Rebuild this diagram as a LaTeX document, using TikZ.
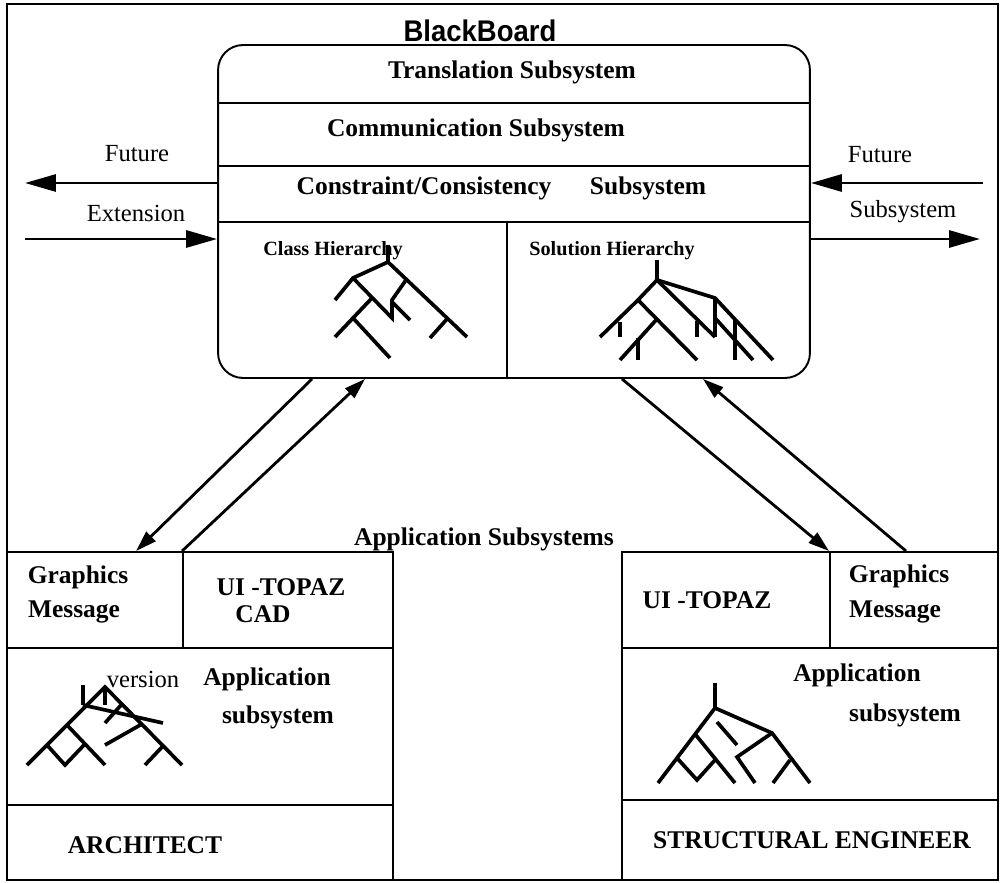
\documentclass[tikz,border=0pt]{standalone}
\usepackage{fontspec}
\setmainfont{Liberation Serif}
\newfontfamily\boardfont{Liberation Sans}
\usetikzlibrary{arrows.meta}

\tikzset{
  box/.style={draw, line width=1.1pt, inner sep=0pt},
  title/.style={font=\fontsize{14.5}{17}\selectfont\bfseries, inner sep=0pt},
  plain/.style={font=\fontsize{14}{16}\selectfont, inner sep=0pt},
  small/.style={font=\fontsize{11.5}{13}\selectfont\bfseries, inner sep=0pt},
  tree/.style={line width=2.1pt},
  flow/.style={line width=1.7pt, -{Triangle[length=0.62cm,width=0.34cm]}},
  link/.style={line width=1.6pt, -{Triangle[length=0.42cm,width=0.26cm]}},
}

\begin{document}
\begin{tikzpicture}[x=0.02cm, y=-0.02cm]
\useasboundingbox (0,0) rectangle (1000,882);

% outer frame
\node[box, minimum width=19.82cm, minimum height=17.52cm] (frame) at (502.5,442) {};

% the blackboard with its subsystems
\node[box, rounded corners=0.5cm, minimum width=11.84cm, minimum height=6.66cm] (bb) at (514,211.5) {};
\draw[line width=1.1pt] (bb.west |- 0,103) -- (bb.east |- 0,103);
\draw[line width=1.1pt] (bb.west |- 0,166) -- (bb.east |- 0,166);
\draw[line width=1.1pt] (bb.west |- 0,222) -- (bb.east |- 0,222);
\draw[line width=1.1pt] (507,222) -- (bb.south -| 507,0);

\node[inner sep=0pt] (bbname) at (480,31) {\boardfont\fontsize{17}{19}\selectfont\bfseries\scalebox{0.92}[1]{BlackBoard}};
\node[title] (trans) at (512,72) {Translation Subsystem};
\node[title] (comm) at (476,130) {Communication Subsystem};
\node[title] (cons) at (424,188) {Constraint/Consistency};
\node[title] (consb) at (648,188) {Subsystem};
\node[small] (classh) at (333,251) {Class Hierarchy};
\node[small] (solh) at (612,251) {Solution Hierarchy};

% class hierarchy tree
\draw[tree] (388,245) -- (388,262);
\draw[tree] (335,300) -- (353,278) -- (388,262) -- (467,337);
\draw[tree] (353,278) -- (392,318) -- (392,300) -- (406,280);
\draw[tree] (392,302) -- (410,320);
\draw[tree] (447,319) -- (430,338);
\draw[tree] (372,298) -- (335,337);
\draw[tree] (353,318) -- (390,358);

% solution hierarchy tree
\draw[tree] (657,260) -- (657,280);
\draw[tree] (600,337) -- (638,300) -- (657,280) -- (715,337);
\draw[tree] (638,300) -- (697,360);
\draw[tree] (620,322) -- (620,337);
\draw[tree] (657,319) -- (620,360);
\draw[tree] (638,338) -- (638,360);
\draw[tree] (697,321) -- (697,337);
\draw[tree] (657,280) -- (715,298) -- (773,360);
\draw[tree] (715,298) -- (715,337);
\draw[tree] (715,318) -- (753,360);
\draw[tree] (735,320) -- (735,360);

% future extension / subsystem arrows
\coordinate (extL1) at (25,183);
\coordinate (extL2) at (25,239);
\coordinate (extR1) at (983,183);
\coordinate (extR2) at (980,239);
\draw[flow] (bb.west |- extL1) -- (extL1);
\draw[flow] (extL2) -- (bb.west |- extL2);
\draw[flow] (extR1) -- (bb.east |- extR1);
\draw[flow] (bb.east |- extR2) -- (extR2);
\node[plain] (futL) at (137,154) {Future};
\node[plain] (extn) at (136,213) {Extension};
\node[plain] (futR) at (880,155) {Future};
\node[plain] (subR) at (903,212) {Subsystem};

% architect side
\node[box, minimum width=3.52cm, minimum height=1.92cm] (gfxL) at (95,600) {};
\node[box, minimum width=4.2cm, minimum height=1.92cm] (cadL) at (288,600) {};
\node[box, minimum width=7.72cm, minimum height=3.14cm] (appL) at (200,726.5) {};
\node[box, minimum width=7.72cm, minimum height=1.5cm] (archL) at (200,842.5) {};
\node[title] (gfxLa) at (78,577) {Graphics};
\node[title] (gfxLb) at (74,612) {Message};
\node[title] (cadLa) at (281,587) {UI -TOPAZ};
\node[title] (cadLb) at (263,614) {CAD};
\node[plain] (vers) at (143,679) {version};
\node[title] (appLa) at (267,679) {Application};
\node[title] (appLb) at (278,717) {subsystem};
\node[title] (arch) at (145,845) {ARCHITECT};

% version tree
\draw[tree] (83,685) -- (83,705);
\draw[tree] (27,765) -- (105,687) -- (182,765);
\draw[tree] (105,687) -- (105,705);
\draw[tree] (83,705) -- (163,723);
\draw[tree] (122,704) -- (105,723);
\draw[tree] (142,724) -- (105,745);
\draw[tree] (163,746) -- (145,765);
\draw[tree] (67,725) -- (105,765);
\draw[tree] (47,745) -- (65,765) -- (84,745);

% structural engineer side
\node[box, minimum width=4.16cm, minimum height=1.92cm] (uiR) at (726,600) {};
\node[box, minimum width=3.36cm, minimum height=1.92cm] (gfxR) at (914,600) {};
\node[box, minimum width=7.52cm, minimum height=3.04cm] (appR) at (810,724) {};
\node[box, minimum width=7.52cm, minimum height=1.6cm] (engR) at (810,840) {};
\node[title] (uiRa) at (707,600) {UI -TOPAZ};
\node[title] (gfxRa) at (899,576) {Graphics};
\node[title] (gfxRb) at (895,612) {Message};
\node[title] (appRa) at (857,675) {Application};
\node[title] (appRb) at (905,715) {subsystem};
\node[title] (eng) at (812,840) {STRUCTURAL ENGINEER};

% application subsystem tree
\draw[tree] (715,683) -- (715,708);
\draw[tree] (658,783) -- (715,708) -- (772,733) -- (810,783);
\draw[tree] (772,733) -- (737,757) -- (755,783);
\draw[tree] (717,722) -- (737,745);
\draw[tree] (695,734) -- (735,783);
\draw[tree] (677,758) -- (697,780) -- (715,760);
\draw[tree] (790,760) -- (773,783);

\node[title] (apps) at (484,539) {Application Subsystems};

% links between blackboard and applications
\draw[link] ([xshift=1.9cm]bb.south west) -- ([xshift=2.6cm]gfxL.north west);
\draw[link] (cadL.north west) -- ([xshift=2.96cm]bb.south west);
\draw[link] ([xshift=-3.78cm]bb.south east) -- (gfxR.north west);
\draw[link] ([xshift=1.54cm]gfxR.north west) -- ([xshift=-2.16cm]bb.south east);
\end{tikzpicture}
\end{document}
